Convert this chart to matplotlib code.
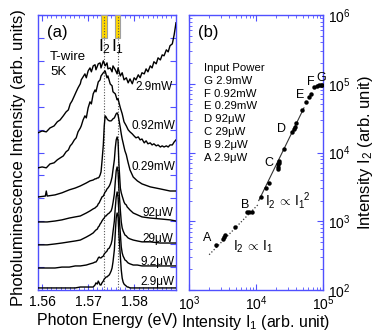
import matplotlib
matplotlib.use('Agg')
import matplotlib.pyplot as plt
from matplotlib.patches import Rectangle
from matplotlib.ticker import MultipleLocator, NullFormatter, FormatStrFormatter, LogLocator

plt.rcParams['font.family'] = ['Liberation Sans', 'DejaVu Sans']
plt.rcParams['mathtext.fontset'] = 'custom'
plt.rcParams['mathtext.rm'] = 'Liberation Sans'
plt.rcParams['mathtext.it'] = 'Liberation Sans:italic'
plt.rcParams['mathtext.bf'] = 'Liberation Sans:bold'

# ---------------- panel (a) data: PL spectra (offset, arb. units) ----------------
energy_hi = [1.5591, 1.5600, 1.5609, 1.5617, 1.5626, 1.5633, 1.5639, 1.5646, 1.5652, 1.5657,
             1.5661, 1.5665, 1.5670, 1.5674, 1.5678, 1.5683, 1.5685, 1.5689, 1.5693, 1.5696,
             1.5700, 1.5704, 1.5707, 1.5711, 1.5715, 1.5717, 1.5722, 1.5726, 1.5728, 1.5733,
             1.5737, 1.5741, 1.5743, 1.5748, 1.5752, 1.5754, 1.5759, 1.5763, 1.5765, 1.5770,
             1.5774, 1.5778, 1.5783, 1.5787, 1.5791, 1.5796, 1.5800, 1.5804, 1.5809, 1.5813,
             1.5817, 1.5822, 1.5826, 1.5830, 1.5835, 1.5839, 1.5843, 1.5848, 1.5852, 1.5857,
             1.5861, 1.5865, 1.5870, 1.5874, 1.5878, 1.5883, 1.5887, 1.5891]

pl_2p9mW = [6.86, 6.94, 6.90, 7.07, 7.16, 7.34, 7.42, 7.60, 7.77, 7.86,
            8.12, 8.25, 8.47, 8.65, 8.82, 9.00, 9.17, 9.30, 9.43, 9.26,
            9.56, 9.69, 9.52, 9.78, 9.83, 9.61, 9.87, 9.91, 9.69, 10.00,
            9.78, 9.91, 9.65, 9.69, 9.52, 9.78, 9.61, 9.43, 9.69, 9.34,
            9.48, 9.17, 9.26, 9.04, 9.21, 9.00, 9.26, 9.17, 9.39, 9.26,
            9.48, 9.43, 9.65, 9.52, 9.78, 9.69, 9.96, 9.87, 10.13, 10.04,
            10.26, 10.22, 10.48, 10.39, 10.66, 10.74, 11.14, 11.66]

pl_0p92mW = [5.33, 5.37, 5.33, 5.50, 5.55, 5.68, 5.76, 5.85, 6.03, 6.11,
             6.29, 6.38, 6.55, 6.64, 6.90, 7.07, 7.16, 7.42, 7.60, 7.51,
             7.95, 8.21, 8.12, 8.56, 8.73, 8.65, 9.08, 9.17, 9.34, 9.48,
             9.56, 9.26, 9.34, 8.99, 8.91, 8.65, 8.56, 8.30, 8.34, 7.95,
             7.69, 7.34, 7.16, 6.99, 6.90, 6.81, 6.72, 6.64, 6.68, 6.55,
             6.59, 6.42, 6.51, 6.38, 6.42, 6.33, 6.38, 6.29, 6.33, 6.24,
             6.29, 6.24, 6.29, 6.24, 6.33, 6.33, 6.46, 6.55]

energy_lo = [1.5591, 1.5607, 1.5609, 1.5611, 1.5628, 1.5643, 1.5659, 1.5672, 1.5683, 1.5696,
             1.5704, 1.5711, 1.5715, 1.5717, 1.5720, 1.5722, 1.5724, 1.5726, 1.5728, 1.5730,
             1.5733, 1.5735, 1.5737, 1.5739, 1.5741, 1.5743, 1.5746, 1.5748, 1.5750, 1.5752,
             1.5754, 1.5757, 1.5759, 1.5761, 1.5763, 1.5765, 1.5767, 1.5770, 1.5772, 1.5774,
             1.5776, 1.5778, 1.5780, 1.5783, 1.5785, 1.5787, 1.5791, 1.5798, 1.5807, 1.5817,
             1.5835, 1.5857, 1.5878, 1.5891]

pl_0p29mW = [4.06, 4.10, 4.32, 4.10, 4.15, 4.24, 4.37, 4.45, 4.54, 4.67,
             4.76, 4.80, 4.85, 4.85, 4.89, 4.89, 4.93, 5.02, 5.15, 5.59,
             6.33, 7.16, 7.60, 7.55, 7.47, 7.42, 7.38, 7.38, 7.38, 7.42,
             7.47, 7.51, 7.60, 7.69, 7.73, 7.64, 7.42, 7.07, 6.81, 6.59,
             6.42, 6.24, 6.07, 5.90, 5.72, 5.55, 5.24, 4.93, 4.76, 4.63,
             4.50, 4.41, 4.32, 4.32]

pl_92uW = [2.97, 2.97, 2.97, 2.97, 3.01, 3.06, 3.14, 3.19, 3.23, 3.36,
           3.45, 3.54, 3.58, 3.62, 3.67, 3.76, 3.80, 3.89, 3.97, 4.06,
           4.10, 4.19, 4.28, 4.32, 4.41, 4.45, 4.54, 4.63, 4.76, 4.93,
           5.24, 5.68, 6.20, 6.55, 6.68, 6.51, 5.46, 4.45, 4.24, 4.10,
           3.97, 3.84, 3.76, 3.71, 3.62, 3.58, 3.49, 3.36, 3.28, 3.19,
           3.14, 3.10, 3.06, 3.01]

pl_29uW = [1.97, 1.97, 1.97, 1.97, 2.01, 2.05, 2.10, 2.14, 2.18, 2.31,
           2.40, 2.49, 2.58, 2.62, 2.66, 2.75, 2.79, 2.88, 2.93, 3.01,
           3.10, 3.14, 3.23, 3.23, 3.28, 3.32, 3.36, 3.41, 3.45, 3.58,
           3.80, 4.19, 4.72, 5.20, 5.37, 5.15, 4.37, 3.49, 2.97, 2.71,
           2.58, 2.49, 2.40, 2.36, 2.31, 2.27, 2.23, 2.18, 2.14, 2.10,
           2.10, 2.05, 2.05, 2.05]

pl_9p2uW = [0.96, 0.96, 0.96, 0.96, 0.96, 1.00, 1.00, 1.05, 1.05, 1.09,
            1.14, 1.18, 1.22, 1.22, 1.31, 1.40, 1.44, 1.40, 1.40, 1.44,
            1.48, 1.57, 1.62, 1.66, 1.70, 1.79, 1.83, 1.92, 2.01, 2.18,
            2.53, 3.01, 3.58, 4.06, 4.28, 4.06, 3.32, 2.45, 1.88, 1.62,
            1.48, 1.40, 1.31, 1.27, 1.22, 1.18, 1.14, 1.09, 1.09, 1.05,
            1.05, 1.05, 1.05, 1.05]

pl_2p9uW = [0.09, 0.09, 0.09, 0.09, 0.09, 0.09, 0.09, 0.09, 0.13, 0.13,
            0.13, 0.13, 0.22, 0.31, 0.26, 0.39, 0.31, 0.22, 0.22, 0.31,
            0.39, 0.48, 0.52, 0.57, 0.57, 0.61, 0.66, 0.74, 0.83, 0.96,
            1.22, 1.75, 2.49, 3.14, 3.36, 3.23, 2.40, 1.48, 0.87, 0.52,
            0.35, 0.26, 0.22, 0.17, 0.13, 0.13, 0.09, 0.09, 0.09, 0.09,
            0.09, 0.09, 0.09, 0.09]

power_labels = ['2.9mW', '0.92mW', '0.29mW', '92\u03bcW', '29\u03bcW', '9.2\u03bcW', '2.9\u03bcW']
label_y = [8.86, 7.16, 5.37, 3.36, 2.23, 1.22, 0.35]
label_x = [1.5883, 1.5889, 1.5889, 1.5885, 1.5885, 1.5887, 1.5887]

E_I2 = 1.5735
E_I1 = 1.5764

# ---------------- panel (b) data ----------------
I1_vals = [2520, 3200, 3300, 3450, 4860, 7340, 7870, 8720, 11900, 14100, 15600,
           21000, 21300, 21600, 22000, 22300, 26500, 34500, 37000, 38000, 39500,
           49000, 55700, 61700, 66100, 73400, 81300, 87100, 93000, 97000]
I2_vals = [452, 560, 590, 630, 825, 1370, 1360, 1360, 2250, 3050, 3600,
           5800, 6200, 6700, 7100, 7600, 11200, 20000, 22000, 23500, 27000,
           42000, 54300, 64100, 71000, 89800, 92700, 95600, 96500, 97000]
fit_lin_I1 = [2000, 11000]
fit_lin_I2 = [326, 1790]
fit_quad_I1 = [11000, 52000]
fit_quad_I2 = [2000, 44600]

point_letters = ['A', 'B', 'C', 'D', 'E', 'F', 'G']
letter_pos = [(0.134, 0.189), (0.418, 0.309), (0.597, 0.462), (0.694, 0.585),
              (0.828, 0.709), (0.910, 0.756), (0.985, 0.771)]
legend_lines = ['Input Power', 'G 2.9mW', 'F 0.92mW', 'E 0.29mW', 'D 92\u03bcW',
                'C 29\u03bcW', 'B 9.2\u03bcW', 'A 2.9\u03bcW']

SPINE = '#5050ff'

fig = plt.figure(figsize=(3.74, 3.34), dpi=100)
axa = fig.add_axes([38/374, 44/334, 138/374, 275/334])
axb = fig.add_axes([189/374, 44/334, 134/374, 275/334])

# ---------------- panel (a) ----------------
for ys in (pl_2p9mW, pl_0p92mW):
    axa.plot(energy_hi, ys, color='black', lw=1.0, zorder=5)
for ys in (pl_0p29mW, pl_92uW, pl_29uW, pl_9p2uW, pl_2p9uW):
    axa.plot(energy_lo, ys, color='black', lw=1.0, zorder=5)

for x, y, s in zip(label_x, label_y, power_labels):
    axa.text(x, y, s, ha='right', va='center', fontsize=8.5, zorder=6)

for ec in (E_I2, E_I1):
    axa.add_patch(Rectangle((ec - 0.00062, 11.0), 0.00124, 1.0, facecolor='#ffd700',
                            edgecolor='#a0a0a0', lw=0.8, zorder=3))
    axa.axvline(ec, color='#555555', ls=(0, (1, 1.5)), lw=0.8, zorder=4)

axa.text(E_I2 + 0.0001, 10.62, 'I$_2$', ha='center', va='center', fontsize=12.5)
axa.text(E_I1 + 0.0001, 10.62, 'I$_1$', ha='center', va='center', fontsize=12.5)

axa.text(0.065, 0.938, '(a)', transform=axa.transAxes, ha='left', va='center', fontsize=12)
axa.text(0.087, 0.848, 'T-wire', transform=axa.transAxes, ha='left', va='center', fontsize=9.5)
axa.text(0.087, 0.793, '5K', transform=axa.transAxes, ha='left', va='center', fontsize=9.5)

axa.set_xlim(1.5591, 1.5891)
axa.set_ylim(0, 12)
axa.xaxis.set_major_locator(MultipleLocator(0.01))
axa.xaxis.set_minor_locator(MultipleLocator(0.001))
axa.xaxis.set_major_formatter(FormatStrFormatter('%.2f'))
axa.yaxis.set_major_locator(MultipleLocator(1))
axa.yaxis.set_major_formatter(NullFormatter())
axa.tick_params(which='both', direction='in', top=True, right=True, color=SPINE, labelsize=10)
axa.tick_params(which='major', length=4, width=0.8)
axa.tick_params(which='minor', length=2, width=0.6)
axa.set_xlabel('Photon Energy (eV)', fontsize=11.5)
axa.xaxis.set_label_coords(0.5, -0.083)
axa.set_ylabel('Photoluminescence Intensity (arb. units)', fontsize=12)
axa.yaxis.set_label_coords(-0.09, 0.48)
for sp in axa.spines.values():
    sp.set_color(SPINE)
    sp.set_linewidth(1.0)

# ---------------- panel (b) ----------------
axb.set_xscale('log')
axb.set_yscale('log')
axb.plot(fit_lin_I1, fit_lin_I2, color='#333333', ls=(0, (1, 1.6)), lw=0.9)
axb.plot(fit_quad_I1, fit_quad_I2, color='#333333', ls='-', lw=0.8)
axb.plot(I1_vals, I2_vals, 'o', color='black', ms=3.2, mew=0, zorder=5)

for (x, y), s in zip(letter_pos, point_letters):
    axb.text(x, y, s, transform=axb.transAxes, ha='center', va='center', fontsize=9)

for i, s in enumerate(legend_lines):
    axb.text(0.112, 0.807 - i * 0.0465, s, transform=axb.transAxes, ha='left',
             va='center', fontsize=8.2)

axb.text(0.067, 0.938, '(b)', transform=axb.transAxes, ha='left', va='center', fontsize=12)
axb.text(0.328, 0.156, 'I$_2$$\\,\\propto\\,$I$_1$', transform=axb.transAxes, ha='left',
         va='center', fontsize=10)
axb.text(0.57, 0.327, 'I$_2$$\\,\\propto\\,$I$_1$$^2$', transform=axb.transAxes, ha='left',
         va='center', fontsize=10)

axb.set_xlim(1e3, 1e5)
axb.set_ylim(1e2, 1e6)
axb.xaxis.set_major_locator(LogLocator(base=10, numticks=5))
axb.yaxis.set_major_locator(LogLocator(base=10, numticks=6))
axb.xaxis.set_minor_locator(LogLocator(base=10, subs=range(2, 10), numticks=20))
axb.yaxis.set_minor_locator(LogLocator(base=10, subs=range(2, 10), numticks=20))
axb.yaxis.tick_right()
axb.yaxis.set_label_position('right')
axb.tick_params(which='both', direction='in', top=True, bottom=True, left=True, right=True,
                labelleft=False, labelright=True, color=SPINE, labelsize=10)
axb.tick_params(which='major', length=4, width=0.8)
axb.tick_params(which='minor', length=2, width=0.6)
axb.set_xlabel('Intensity I$_1$ (arb. unit)', fontsize=11.5)
axb.xaxis.set_label_coords(0.5, -0.083)
axb.set_ylabel('Intensity I$_2$ (arb. unit)', fontsize=12, labelpad=4)
for sp in axb.spines.values():
    sp.set_color(SPINE)
    sp.set_linewidth(1.0)

fig.savefig('out.png', dpi=100)
